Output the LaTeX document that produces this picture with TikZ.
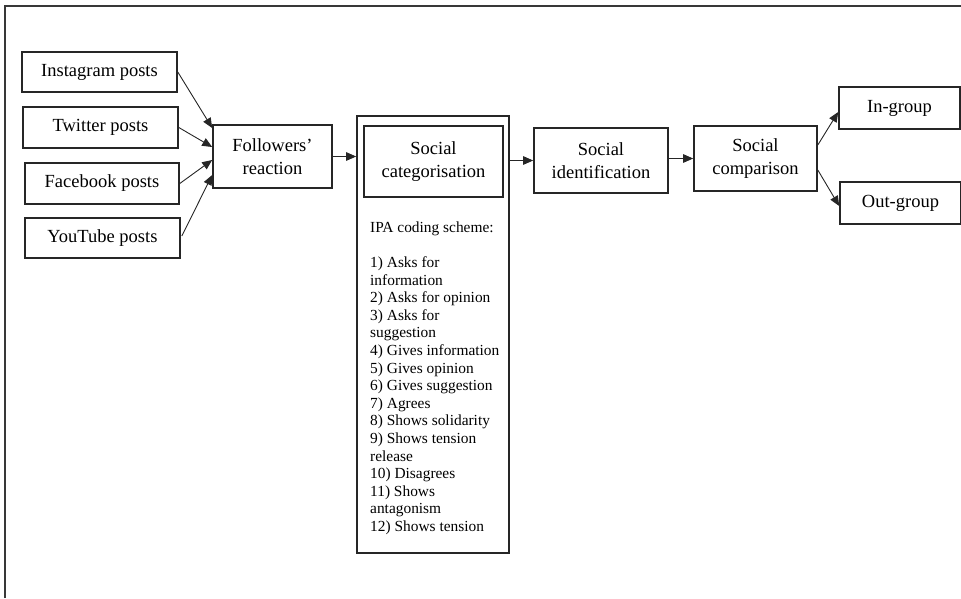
\documentclass[tikz,border=0pt]{standalone}
\usepackage{fontspec}
\setmainfont{Liberation Serif}
\usetikzlibrary{arrows.meta,calc}
\begin{document}
\begin{tikzpicture}[x=1pt,y=-1pt,
  box/.style={draw=black!85,line width=1.6pt,inner sep=0pt,align=center,
    font=\fontsize{18.5}{23}\selectfont},
  arr/.style={draw=black!85,line width=0.9pt,-{Triangle[length=10pt,width=8.5pt]}},
  frameline/.style={draw=black!78,line width=2.2pt},
  listtext/.style={inner sep=0pt,align=left,anchor=north west,
    font=\fontsize{15.4}{17.6}\selectfont}]
\useasboundingbox (0,0) rectangle (961,598);
% outer frame (cropped)
\coordinate (fbl) at (5,598);
\coordinate (ftl) at (5,6);
\coordinate (ftr) at (961,6);
\draw[frameline] (fbl) -- (ftl) -- (ftr);

% source boxes
\node[box,minimum width=155pt,minimum height=40pt] (insta) at (99.5,72) {Instagram posts};
\node[box,minimum width=155pt,minimum height=41pt] (twitter) at (100.5,127.5) {Twitter posts};
\node[box,minimum width=154pt,minimum height=41pt] (facebook) at (102,183.5) {Facebook posts};
\node[box,minimum width=155pt,minimum height=40pt] (youtube) at (102.5,238) {YouTube posts};

\node[box,minimum width=119pt,minimum height=63pt] (followers) at (272.5,156.5) {Followers’\\reaction};

% social categorisation
\node[box,minimum width=152pt,minimum height=437pt] (catouter) at (433,334.5) {};
\node[box,minimum width=139pt,minimum height=71pt] (catinner) at (433.5,161.5) {Social\\categorisation};
\node[listtext] (ipa) at (370,221.5) {IPA coding scheme:\\[17.6pt]
1) Asks for\\
information\\
2) Asks for opinion\\
3) Asks for\\
suggestion\\
4) Gives information\\
5) Gives opinion\\
6) Gives suggestion\\
7) Agrees\\
8) Shows solidarity\\
9) Shows tension\\
release\\
10) Disagrees\\
11) Shows\\
antagonism\\
12) Shows tension};

\node[box,minimum width=134pt,minimum height=65pt] (ident) at (601,160.5) {Social\\identification};
\node[box,minimum width=123pt,minimum height=65pt] (compar) at (755.5,158.5) {Social\\comparison};
\node[box,minimum width=121pt,minimum height=42pt] (ingroup) at (899.5,108) {In-group};
\node[box,minimum width=121pt,minimum height=42pt] (outgroup) at (900.5,203) {Out-group};

% connectors
\draw[arr] (insta.east) -- ([yshift=28.5pt]followers.west);
\draw[arr] (twitter.east) -- ([yshift=9.5pt]followers.west);
\draw[arr] (facebook.east) -- ([yshift=-3.5pt]followers.west);
\draw[arr] ([xshift=1pt,yshift=2pt]youtube.east) -- ([yshift=-18.5pt]followers.west);

\draw[arr] (followers.east) -- (followers.east -| catouter.west);
\draw[arr] (ident.west -| catouter.east) -- (ident.west);
\draw[arr] (compar.west -| ident.east) -- (compar.west);
\draw[arr] ([yshift=13.5pt]compar.east) -- ([yshift=-4pt]ingroup.west);
\draw[arr] ([yshift=-11.5pt]compar.east) -- ([yshift=-3pt]outgroup.west);
\end{tikzpicture}
\end{document}
